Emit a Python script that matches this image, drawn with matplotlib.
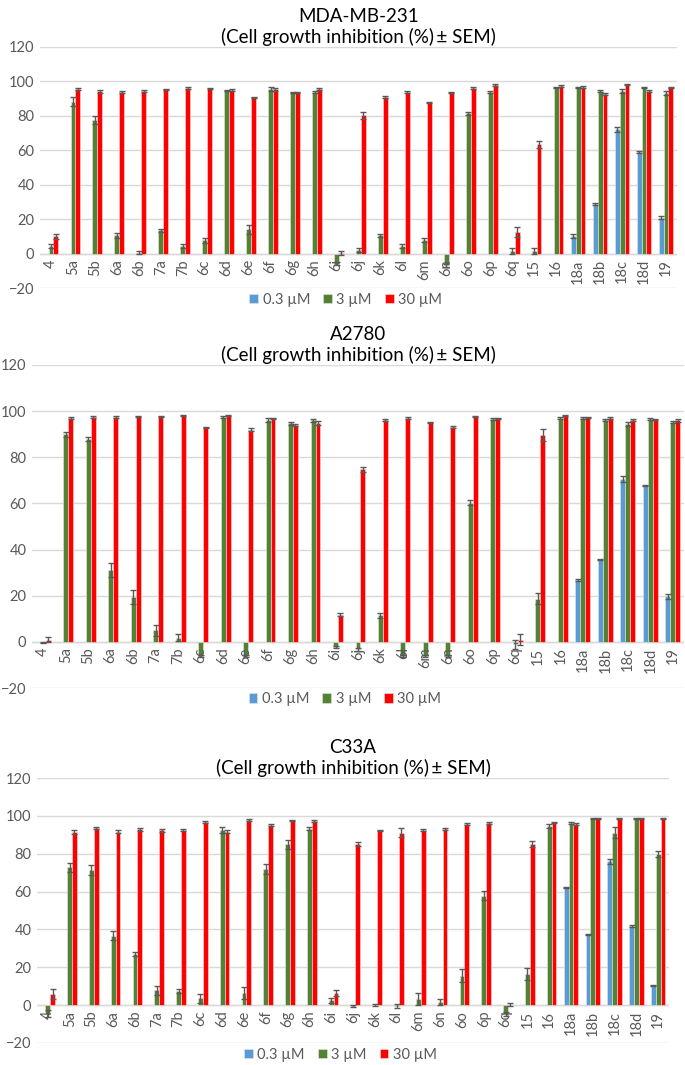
"""
Cell growth inhibition bar charts for three cell lines
"""

import numpy as np
from matplotlib import pyplot as plt

plt.rcParams['font.family'] = ['Lato', 'DejaVu Sans']

nan = np.nan

compounds = ['4', '5a', '5b', '6a', '6b', '7a', '7b', '6c', '6d', '6e', '6f', '6g', '6h',
             '6i', '6j', '6k', '6l', '6m', '6n', '6o', '6p', '6q', '15', '16',
             '18a', '18b', '18c', '18d', '19']
doses = ['0.3 \u00b5M', '3 \u00b5M', '30 \u00b5M']

# MDA-MB-231
mda_low = [nan] * 24 + [10.1, 28.8, 72.1, 59.0, 20.9]
mda_mid = [4.5, 88.3, 77.7, 10.7, 0.5, 13.6, 4.3, 7.8, 94.8, 14.0, 95.5, 93.6, 93.8,
           -5.8, 2.0, 10.7, 4.3, 7.8, -6.8, 81.5, 94.0, 1.5, 1.5, 96.5,
           96.5, 94.5, 94.5, 96.5, 93.2]
mda_high = [10.1, 95.7, 94.2, 93.8, 94.6, 95.5, 96.1, 95.7, 95.1, 90.7, 95.5, 93.6, 95.7,
            0.3, 80.3, 91.0, 94.0, 87.7, 93.6, 96.1, 97.9, 12.7, 63.4, 97.5,
            96.7, 92.6, 98.2, 94.5, 96.5]
mda_low_err = [nan] * 24 + [1.0, 0.3, 1.5, 0.8, 0.8]
mda_mid_err = [1.0, 2.5, 2.5, 1.5, 1.0, 0.8, 1.0, 1.5, 0.5, 2.5, 1.0, 0.5, 0.8,
               1.0, 1.0, 0.8, 1.0, 1.0, 1.0, 0.8, 0.5, 1.5, 2.0, 0.5,
               0.5, 0.5, 1.0, 0.5, 1.0]
mda_high_err = [1.5, 0.5, 0.8, 0.5, 0.5, 0.3, 0.5, 0.3, 0.5, 0.5, 0.8, 0.5, 0.5,
                1.0, 2.0, 0.5, 0.5, 0.5, 0.5, 0.5, 0.5, 3.0, 2.0, 0.5,
                0.5, 0.5, 0.5, 0.8, 0.5]

# A2780
a27_low = [nan] * 24 + [26.9, 35.7, 70.5, 67.9, 19.7]
a27_mid = [-0.3, 90.0, 88.0, 31.0, 19.4, 5.0, 1.7, -6.0, 97.4, -6.0, 96.1, 94.7, 96.0,
           -2.2, -3.3, 11.5, -6.0, -6.0, -6.0, 60.4, 96.7, -1.0, 18.7, 97.1,
           97.0, 96.3, 94.4, 96.5, 95.3]
a27_high = [1.0, 97.0, 97.5, 97.4, 97.8, 97.8, 98.0, 93.0, 98.0, 92.0, 96.8, 94.0, 95.0,
            11.8, 74.8, 96.1, 97.1, 95.1, 93.1, 97.6, 96.7, 1.0, 89.6, 98.0,
            97.2, 97.0, 96.1, 96.3, 96.0]
a27_low_err = [nan] * 24 + [0.5, 0.3, 1.2, 0.3, 1.0]
a27_mid_err = [0.3, 1.0, 0.8, 3.0, 3.0, 2.5, 1.5, 0.5, 0.5, 0.5, 1.0, 0.5, 0.5,
               0.5, 0.5, 1.2, 0.5, 0.5, 0.5, 1.2, 0.5, 2.0, 2.5, 0.5,
               0.5, 0.5, 1.0, 0.5, 0.5]
a27_high_err = [1.2, 0.5, 0.5, 0.3, 0.3, 0.3, 0.3, 0.3, 0.3, 0.5, 0.3, 0.5, 0.8,
                0.8, 1.0, 0.3, 0.3, 0.3, 0.5, 0.3, 0.3, 2.5, 2.5, 0.3,
                0.3, 0.3, 0.5, 0.3, 0.5]

# C33A
c33_low = [nan] * 24 + [62.2, 37.3, 75.9, 42.0, 10.4]
c33_mid = [-4.5, 72.8, 71.5, 36.7, 27.1, 7.8, 7.5, 3.6, 92.6, 6.5, 71.9, 85.0, 93.3,
           2.5, -0.5, 0.0, -0.5, 3.3, 1.5, 15.5, 57.8, -4.5, 16.5, 94.7,
           96.1, 98.6, 91.2, 98.4, 79.8]
c33_high = [5.8, 91.6, 93.7, 91.7, 93.0, 92.5, 92.4, 96.8, 91.5, 97.9, 95.3, 97.5, 97.4,
            6.4, 85.1, 92.4, 91.2, 92.6, 93.0, 95.6, 96.0, 0.3, 85.0, 96.5,
            95.7, 98.5, 98.8, 98.4, 98.4]
c33_low_err = [nan] * 24 + [0.3, 0.3, 1.5, 0.5, 0.3]
c33_mid_err = [2.0, 2.5, 2.5, 2.5, 1.0, 2.5, 1.0, 2.5, 1.5, 3.0, 2.5, 2.5, 1.0,
               1.5, 0.5, 0.5, 1.0, 3.0, 1.5, 3.5, 2.5, 1.0, 3.0, 1.0,
               0.5, 0.5, 3.0, 0.3, 1.5]
c33_high_err = [2.5, 1.0, 0.5, 1.0, 0.8, 0.8, 0.5, 0.5, 0.8, 0.5, 0.5, 0.3, 0.5,
                1.5, 1.0, 0.3, 2.5, 0.5, 0.5, 0.5, 0.5, 1.0, 1.5, 0.5,
                0.5, 0.3, 0.3, 0.3, 0.3]

colors = ['#5b9bd5', '#548235', '#ff0000']
GRID = '#d9d9d9'
TEXT = '#595959'


def draw_panel(fig, rect, name, series, errors):
    """
    Draws one grouped bar panel
    """
    ax = fig.add_axes(rect)
    x = np.arange(len(compounds))
    w = 0.22
    for k in range(3):
        ax.bar(x + (k - 1) * w, series[k], w, color=colors[k], label=doses[k],
               edgecolor='#e6e6e6', linewidth=0.4, zorder=2)
        ax.errorbar(x + (k - 1) * w, series[k], yerr=errors[k], fmt='none',
                    ecolor=TEXT, elinewidth=1, capsize=2.5, capthick=1, zorder=3)
    ax.set_xlim(-0.5, len(compounds) - 0.5)
    ax.set_ylim(-20, 120)
    ax.set_yticks(range(-20, 121, 20))
    ax.yaxis.grid(True, color=GRID, linewidth=1)
    ax.set_axisbelow(True)
    ax.axhline(0, color=GRID, linewidth=1, zorder=1)
    for s in ax.spines.values():
        s.set_visible(False)
    ax.tick_params(axis='y', length=0, labelsize=10.5, labelcolor=TEXT, pad=4)
    ax.set_xticks([])
    # category labels sit next to the zero line, like Excel
    for i, c in enumerate(compounds):
        ax.annotate(c, (i, 0), xytext=(0, -4), textcoords='offset points',
                    rotation=90, ha='center', va='top', fontsize=10.5, color=TEXT)
    ax.set_title(name + '\n(Cell growth inhibition (%)\u2009\u00b1 SEM)', fontsize=13.5,
                 color='black', linespacing=1.2, pad=3)
    ax.legend(loc='upper center', bbox_to_anchor=(0.48, 0.01), ncol=3, frameon=False,
              fontsize=10.5, labelcolor=TEXT, handlelength=0.6, handleheight=0.6,
              handletextpad=0.3, columnspacing=0.9, borderaxespad=0.1)
    return ax


fig = plt.figure(figsize=(6.85, 10.65), dpi=100)
H = 1065.0
W = 685.0
draw_panel(fig, [40 / W, 1 - 288 / H, 637 / W, 241 / H], 'MDA-MB-231',
           [mda_low, mda_mid, mda_high], [mda_low_err, mda_mid_err, mda_high_err])
draw_panel(fig, [32 / W, 1 - 688 / H, 652 / W, 323 / H], 'A2780',
           [a27_low, a27_mid, a27_high], [a27_low_err, a27_mid_err, a27_high_err])
draw_panel(fig, [37 / W, 1 - 1043 / H, 632 / W, 265 / H], 'C33A',
           [c33_low, c33_mid, c33_high], [c33_low_err, c33_mid_err, c33_high_err])
fig.savefig('out.png', dpi=100)
